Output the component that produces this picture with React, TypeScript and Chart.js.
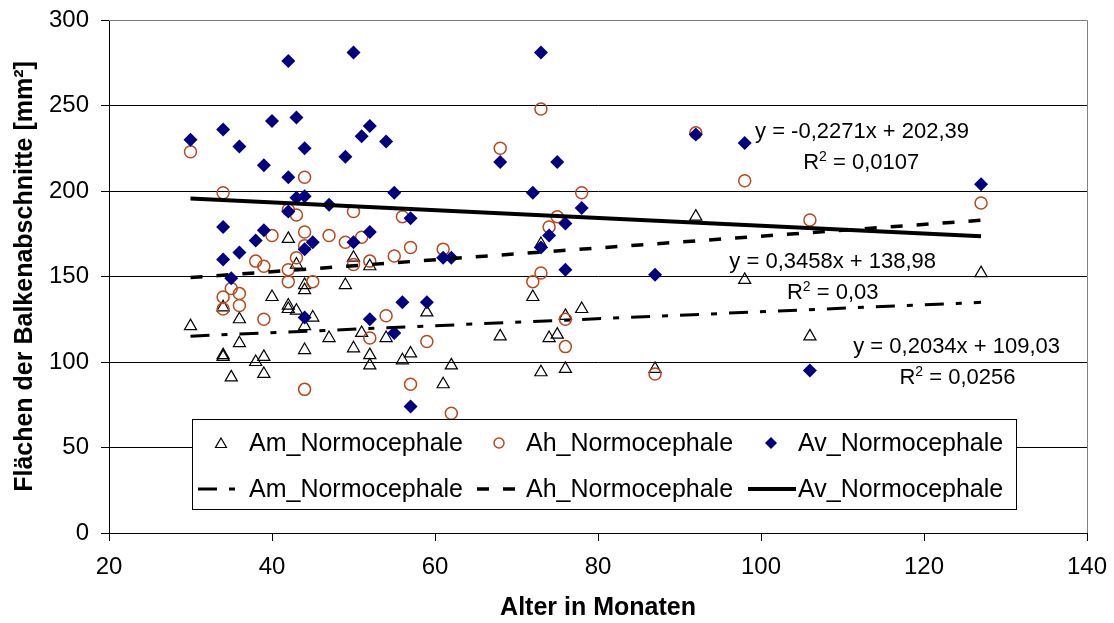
import React, { useEffect, useRef } from 'react';
import { Chart, registerables } from 'chart.js';

Chart.register(...registerables);

// ---------- data ----------
const seriesNames = ['Am_Normocephale', 'Ah_Normocephale', 'Av_Normocephale'];
const xTickValues = [20, 40, 60, 80, 100, 120, 140];
const yTickValues = [0, 50, 100, 150, 200, 250, 300];

const amPoints: [number, number][] = [
  [30, 121], [34, 132], [34, 104], [34, 103], [35, 91], [36, 125], [36, 111], [38, 100], [39, 103], [39, 93],
  [40, 138], [42, 172], [42, 133], [42, 131], [43, 157], [43, 130], [44, 145], [44, 142], [44, 121], [44, 107],
  [45, 126], [47, 114], [49, 145], [50, 161], [50, 108], [51, 117], [52, 156], [52, 104], [52, 98], [54, 114],
  [56, 101], [57, 105], [59, 129], [61, 87], [62, 98], [68, 115], [72, 138], [73, 169], [73, 94], [74, 114],
  [75, 116], [76, 127], [76, 96], [78, 131], [87, 96], [92, 185], [98, 148], [106, 115], [127, 152],
];

const ahPoints: [number, number][] = [
  [30, 223], [34, 199], [34, 138], [34, 131], [35, 143], [36, 140], [36, 133], [38, 159], [39, 156], [39, 125],
  [40, 174], [42, 189], [42, 154], [42, 147], [43, 186], [43, 161], [44, 208], [44, 176], [44, 168], [44, 84],
  [45, 147], [47, 174], [49, 170], [50, 188], [50, 157], [51, 173], [52, 159], [52, 114], [54, 127], [55, 162],
  [56, 185], [57, 167], [57, 87], [59, 112], [61, 166], [62, 70], [68, 225], [72, 147], [73, 248], [73, 152],
  [74, 179], [75, 185], [76, 125], [76, 109], [78, 199], [87, 93], [92, 234], [98, 206], [106, 183], [127, 193],
];

const avPoints: [number, number][] = [
  [30, 230], [34, 236], [34, 179], [34, 160], [35, 149], [36, 226], [36, 164], [38, 171], [39, 215], [39, 177],
  [40, 241], [42, 276], [42, 208], [42, 188], [43, 243], [43, 196], [44, 225], [44, 197], [44, 166], [44, 126],
  [45, 170], [47, 192], [49, 220], [50, 281], [50, 170], [51, 232], [52, 238], [52, 176], [52, 125], [54, 229],
  [55, 199], [55, 117], [56, 135], [57, 184], [57, 74], [59, 135], [61, 161], [62, 161], [68, 217], [72, 199],
  [73, 281], [73, 167], [74, 174], [75, 217], [76, 181], [76, 154], [78, 190], [87, 151], [92, 233], [98, 228],
  [106, 95], [127, 204],
];

// trend line end points (x = 30 and x = 127)
const trendX = [30, 127];
const amTrendY = [115.1, 134.9];
const ahTrendY = [149.4, 182.9];
const avTrendY = [195.6, 173.6];

const equations = ['y = 0,2034x + 109,03', 'y = 0,3458x + 138,98', 'y = -0,2271x + 202,39'];
const rSquared = ['0,0256', '0,03', '0,0107'];

// ---------- styles ----------
const FONT = '"Liberation Sans", Arial, Helvetica, sans-serif';
const ORANGE = '#B9481A';
const NAVY = '#000080';
const AM_DASH = [19, 12, 6, 12];
const AH_DASH = [12, 14];

// label anchors in data coordinates (center x, baseline y)
const eqAnchors = [
  { eq: [124.0, 105.3], r2: [124.1, 87.1] },
  { eq: [108.8, 155.0], r2: [108.8, 136.8] },
  { eq: [112.4, 231.0], r2: [112.3, 212.9] },
];

const toXY = (pts: [number, number][]) => pts.map(([x, y]) => ({ x, y }));
const trend = (ys: number[]) => trendX.map((x, i) => ({ x, y: ys[i] }));

function drawR2(ctx: CanvasRenderingContext2D, cx: number, by: number, value: string) {
  const big = `22px ${FONT}`;
  const small = `14px ${FONT}`;
  ctx.font = big;
  const wR = ctx.measureText('R').width;
  const rest = ' = ' + value;
  const wRest = ctx.measureText(rest).width;
  ctx.font = small;
  const wS = ctx.measureText('2').width;
  const total = wR + wS + wRest;
  let x = cx - total / 2;
  ctx.textAlign = 'left';
  ctx.textBaseline = 'alphabetic';
  ctx.font = big;
  ctx.fillText('R', x, by);
  x += wR;
  ctx.font = small;
  ctx.fillText('2', x, by - 8);
  x += wS;
  ctx.font = big;
  ctx.fillText(rest, x, by);
}

const overlayPlugin = {
  id: 'overlay',
  afterDatasetsDraw(chart: any) {
    const { ctx, chartArea, scales } = chart;
    const xs = scales.x;
    const ys = scales.y;
    ctx.save();
    // plot-area border (top / right)
    ctx.strokeStyle = '#808080';
    ctx.lineWidth = 1;
    ctx.beginPath();
    ctx.moveTo(chartArea.left, chartArea.top + 0.5);
    ctx.lineTo(chartArea.right + 0.5, chartArea.top + 0.5);
    ctx.lineTo(chartArea.right + 0.5, chartArea.bottom);
    ctx.stroke();

    // equations
    ctx.fillStyle = '#000';
    eqAnchors.forEach((a, i) => {
      ctx.font = `22px ${FONT}`;
      ctx.textAlign = 'center';
      ctx.textBaseline = 'alphabetic';
      ctx.fillText(equations[i], xs.getPixelForValue(a.eq[0]), ys.getPixelForValue(a.eq[1]));
      drawR2(ctx, xs.getPixelForValue(a.r2[0]), ys.getPixelForValue(a.r2[1]), rSquared[i]);
    });

    // legend
    const L = 192, T = 419, W = 824, H = 90;
    ctx.fillStyle = '#fff';
    ctx.fillRect(L, T, W, H);
    ctx.strokeStyle = '#000';
    ctx.lineWidth = 1;
    ctx.setLineDash([]);
    ctx.strokeRect(L + 0.5, T + 0.5, W, H);

    const row1 = 443, row2 = 489;
    const textX = [249, 526, 798];
    const markX = [221, 499, 771];
    const lineX = [[198, 238], [477, 521], [748, 796]];

    ctx.font = `25px ${FONT}`;
    ctx.fillStyle = '#000';
    ctx.textAlign = 'left';
    ctx.textBaseline = 'middle';
    for (let i = 0; i < 3; i++) {
      ctx.fillText(seriesNames[i], textX[i], row1 + 1);
      ctx.fillText(seriesNames[i], textX[i], row2 + 1);
    }
    // markers
    // triangle
    ctx.strokeStyle = '#000';
    ctx.lineWidth = 1.2;
    ctx.beginPath();
    ctx.moveTo(markX[0], row1 - 5);
    ctx.lineTo(markX[0] + 5.5, row1 + 4.5);
    ctx.lineTo(markX[0] - 5.5, row1 + 4.5);
    ctx.closePath();
    ctx.stroke();
    // circle
    ctx.strokeStyle = ORANGE;
    ctx.lineWidth = 1.5;
    ctx.beginPath();
    ctx.arc(markX[1], row1, 5, 0, Math.PI * 2);
    ctx.stroke();
    // diamond
    ctx.fillStyle = NAVY;
    ctx.beginPath();
    ctx.moveTo(markX[2], row1 - 6);
    ctx.lineTo(markX[2] + 6, row1);
    ctx.lineTo(markX[2], row1 + 6);
    ctx.lineTo(markX[2] - 6, row1);
    ctx.closePath();
    ctx.fill();
    // line samples
    const dashes = [AM_DASH, AH_DASH, []];
    const widths = [3, 3.5, 4];
    ctx.strokeStyle = '#000';
    for (let i = 0; i < 3; i++) {
      ctx.setLineDash(dashes[i]);
      ctx.lineWidth = widths[i];
      ctx.beginPath();
      ctx.moveTo(lineX[i][0], row2);
      ctx.lineTo(lineX[i][1], row2);
      ctx.stroke();
    }
    ctx.restore();
  },
};

export default function App() {
  const ref = useRef<HTMLCanvasElement>(null);
  useEffect(() => {
    if (!ref.current) return;
    const chart = new Chart(ref.current, {
      type: 'scatter',
      data: {
        datasets: [
          {
            label: seriesNames[0] + ' trend',
            data: trend(amTrendY),
            showLine: true,
            borderColor: '#000',
            borderWidth: 3,
            borderDash: AM_DASH,
            pointRadius: 0,
            order: 0,
          },
          {
            label: seriesNames[1] + ' trend',
            data: trend(ahTrendY),
            showLine: true,
            borderColor: '#000',
            borderWidth: 3.5,
            borderDash: AH_DASH,
            pointRadius: 0,
            order: 0,
          },
          {
            label: seriesNames[2] + ' trend',
            data: trend(avTrendY),
            showLine: true,
            borderColor: '#000',
            borderWidth: 4,
            pointRadius: 0,
            order: 0,
          },
          {
            label: seriesNames[2],
            data: toXY(avPoints),
            pointStyle: 'rectRot',
            pointRadius: 7,
            pointBackgroundColor: NAVY,
            pointBorderColor: NAVY,
            pointBorderWidth: 0,
            order: 1,
          },
          {
            label: seriesNames[1],
            data: toXY(ahPoints),
            pointStyle: 'circle',
            pointRadius: 6,
            pointBackgroundColor: 'rgba(0,0,0,0)',
            pointBorderColor: ORANGE,
            pointBorderWidth: 1.5,
            order: 2,
          },
          {
            label: seriesNames[0],
            data: toXY(amPoints),
            pointStyle: 'triangle',
            pointRadius: 7,
            pointBackgroundColor: 'rgba(0,0,0,0)',
            pointBorderColor: '#000',
            pointBorderWidth: 1.2,
            order: 3,
          },
        ],
      },
      options: {
        responsive: false,
        animation: false,
        events: [],
        layout: { padding: { left: 0, top: 20, right: 27, bottom: 0 } },
        plugins: {
          legend: { display: false },
          tooltip: { enabled: false },
        },
        scales: {
          x: {
            type: 'linear',
            min: 20,
            max: 140,
            afterBuildTicks: (s: any) => {
              s.ticks = xTickValues.map((v) => ({ value: v }));
            },
            afterFit: (s: any) => {
              s.height = 90;
              s.paddingLeft = 0;
              s.paddingRight = 0;
            },
            ticks: {
              font: { family: FONT, size: 24 },
              color: '#000',
              padding: 12,
              maxRotation: 0,
            },
            grid: { drawOnChartArea: false, drawTicks: true, tickLength: 8, color: '#000' },
            border: { display: true, color: '#000', width: 1 },
            title: {
              display: true,
              text: 'Alter in Monaten',
              color: '#000',
              font: { family: FONT, size: 25, weight: 'bold' },
              padding: { top: 0, bottom: 0 },
            },
          },
          y: {
            type: 'linear',
            min: 0,
            max: 300,
            afterBuildTicks: (s: any) => {
              s.ticks = yTickValues.map((v) => ({ value: v }));
            },
            afterFit: (s: any) => {
              s.width = 109;
              s.paddingTop = 0;
              s.paddingBottom = 0;
            },
            ticks: {
              font: { family: FONT, size: 24 },
              color: '#000',
              padding: 12,
            },
            grid: { color: '#000', lineWidth: 1, drawTicks: true, tickLength: 8 },
            border: { display: true, color: '#000', width: 1 },
            title: {
              display: true,
              text: 'Flächen der Balkenabschnitte [mm²]',
              color: '#000',
              font: { family: FONT, size: 25, weight: 'bold' },
              padding: { top: 10, bottom: 0 },
            },
          },
        },
      },
      plugins: [overlayPlugin],
    } as any);
    return () => chart.destroy();
  }, []);

  return (
    <div style={{ position: 'fixed', left: 0, top: 0, width: 1114, height: 623, background: '#fff' }}>
      <canvas ref={ref} width={1114} height={623} style={{ display: 'block' }} />
    </div>
  );
}
